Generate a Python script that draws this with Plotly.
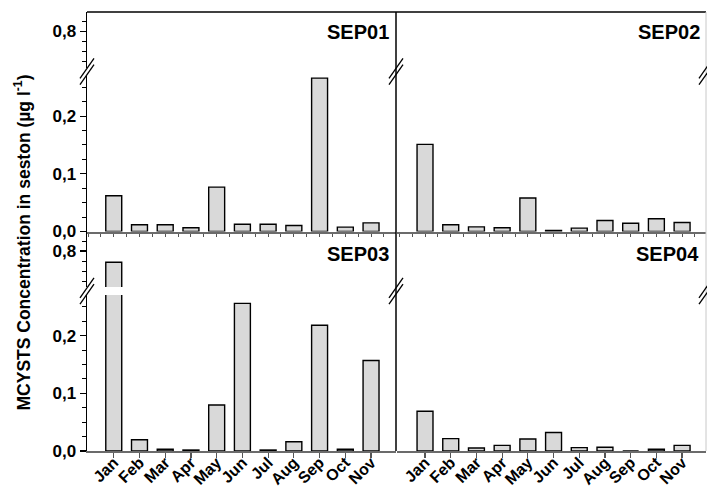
import plotly.graph_objects as go

# ---------------- data ----------------
months = ["Jan", "Feb", "Mar", "Apr", "May", "Jun", "Jul", "Aug", "Sep", "Oct", "Nov"]
sep01 = [0.062, 0.0116, 0.0116, 0.0064, 0.077, 0.0127, 0.0127, 0.0104, 0.266, 0.0075, 0.015]
sep02 = [0.151, 0.0116, 0.008, 0.0064, 0.058, 0.002, 0.0058, 0.019, 0.0144, 0.022, 0.0156]
sep03 = [0.744, 0.0196, 0.003, 0.0017, 0.0797, 0.256, 0.0017, 0.016, 0.218, 0.003, 0.157]
sep04 = [0.069, 0.0214, 0.0052, 0.0098, 0.0208, 0.032, 0.0058, 0.0064, 0.0, 0.003, 0.0098]
panel_names = ["SEP01", "SEP02", "SEP03", "SEP04"]
low_ticks = [0.0, 0.1, 0.2]
low_ticktext = ["0,0", "0,1", "0,2"]
up_ticks = [0.8]
up_ticktext = ["0,8"]

series = [sep01, sep02, sep03, sep04]

# ---------------- geometry ----------------
W, H = 707, 488
ML, MR, MT, MB = 87, 1, 12, 37
PW = W - ML - MR
PH = H - MT - MB


def px_x(px):
    return (px - ML) / PW


def px_y(py):
    return (H - MB - py) / PH


FONT = "Liberation Sans, Arial, Helvetica, sans-serif"
row_tops = [12, 231.5]
row_h = 219.5
col_px = [(87, 396), (397, 706)]
col_ranges = [[-1.04, 10.97], [-1.09, 10.93]]
LOW_RANGE = [0, 0.2705]
UP_RANGE = [0.62, 0.8975]

fig = go.Figure()
layout = dict(
    width=W, height=H,
    margin=dict(l=ML, r=MR, t=MT, b=MB, autoexpand=False),
    plot_bgcolor="white", paper_bgcolor="white",
    showlegend=False, bargap=0,
    font=dict(family=FONT, color="black"),
)

for p in range(4):
    r, c = divmod(p, 2)
    xid = "x" if p == 0 else f"x{p+1}"
    ylo_n = 2 * p + 1
    yup_n = 2 * p + 2
    ylo = "y" if ylo_n == 1 else f"y{ylo_n}"
    yup = f"y{yup_n}"
    top = row_tops[r]
    lo_dom = [px_y(top + row_h), px_y(top + 63.5)]
    up_dom = [px_y(top + 55.5), px_y(top)]
    x_dom = [px_x(col_px[c][0]), px_x(col_px[c][1])]

    for ya in (ylo, yup):
        fig.add_trace(go.Bar(
            x=list(range(len(months))), y=series[p], xaxis=xid, yaxis=ya,
            width=0.62, marker=dict(color="#d9d9d9", line=dict(color="black", width=1.4)),
            hoverinfo="skip",
        ))

    xkey = "xaxis" if p == 0 else f"xaxis{p+1}"
    xa = dict(domain=x_dom, range=col_ranges[c], anchor=ylo, showgrid=False, zeroline=False,
              showline=True, linecolor="#6b6b6b", linewidth=2, ticks="outside",
              tickcolor="#555", fixedrange=True, automargin=False)
    if r == 1:
        xa.update(tickmode="array", tickvals=list(range(len(months))), ticktext=months,
                  tickangle=-45, ticklen=5, tickwidth=1.2, ticklabelstandoff=-11,
                  tickfont=dict(size=16, family=FONT, weight="bold"))
    else:
        xa.update(showticklabels=False, tickmode="linear", tick0=-0.5, dtick=0.5, ticklen=3,
                  tickwidth=1)
    layout[xkey] = xa

    lkey = "yaxis" if ylo_n == 1 else f"yaxis{ylo_n}"
    ukey = f"yaxis{yup_n}"
    base = dict(anchor=xid, showgrid=False, zeroline=False, fixedrange=True, automargin=False)
    lo = dict(base, domain=lo_dom, range=LOW_RANGE)
    up = dict(base, domain=up_dom, range=UP_RANGE)
    if c == 0:
        common = dict(showline=True, linecolor="black", linewidth=1.5, ticks="outside",
                      ticklen=6, tickwidth=1.2, tickcolor="black", tickmode="array",
                      tickfont=dict(size=17, family=FONT, weight="bold"))
        lo.update(common, tickvals=low_ticks, ticktext=low_ticktext,
                  minor=dict(tick0=0, dtick=0.025, ticks="outside", ticklen=4, tickcolor="black",
                             tickwidth=1))
        up.update(common, tickvals=up_ticks, ticktext=up_ticktext,
                  minor=dict(tick0=0, dtick=0.05, ticks="outside", ticklen=4, tickcolor="black",
                             tickwidth=1))
    else:
        lo.update(showline=False, showticklabels=False, ticks="")
        up.update(showline=False, showticklabels=False, ticks="")
    layout[lkey] = lo
    layout[ukey] = up

shapes = []
# top border
shapes.append(dict(type="line", xref="paper", yref="paper", x0=px_x(87), x1=px_x(706),
                   y0=px_y(12), y1=px_y(12), line=dict(color="black", width=1.5)))
# middle separator
shapes.append(dict(type="line", xref="paper", yref="paper", x0=px_x(396), x1=px_x(396),
                   y0=px_y(12), y1=px_y(451), line=dict(color="black", width=1.5)))
# right edge
shapes.append(dict(type="line", xref="paper", yref="paper", x0=px_x(706), x1=px_x(706),
                   y0=px_y(12), y1=px_y(451), line=dict(color="#c8c8c8", width=1)))
# break slashes
for top in row_tops:
    cy = top + 59.5
    for cx in (87, 396, 706):
        for off in (-3.2, 3.2):
            shapes.append(dict(type="line", xref="paper", yref="paper",
                               x0=px_x(cx - 7), x1=px_x(cx + 7),
                               y0=px_y(cy + off + 10), y1=px_y(cy + off - 10),
                               line=dict(color="black", width=1.3)))
layout["shapes"] = shapes

ann = []
label_pos = [(391, 32), (702, 32), (391, 254), (701, 254)]
for name, (lx, ly) in zip(panel_names, label_pos):
    ann.append(dict(text=name, xref="paper", yref="paper", x=px_x(lx), y=px_y(ly),
                    xanchor="right", yanchor="middle", showarrow=False,
                    font=dict(size=20, family=FONT, weight="bold", color="black")))
ann.append(dict(text="MCYSTS Concentration in seston (µg l<sup>-1</sup>)", xref="paper", yref="paper",
                x=px_x(22), y=px_y(242.5), xanchor="center", yanchor="middle", textangle=-90,
                showarrow=False, font=dict(size=17.5, family=FONT, weight="bold", color="black")))
layout["annotations"] = ann

fig.update_layout(**layout)
fig.write_html("out.html", config={"displayModeBar": False, "staticPlot": True},
               post_script="document.body.style.margin='0';document.body.style.overflow='hidden';")
